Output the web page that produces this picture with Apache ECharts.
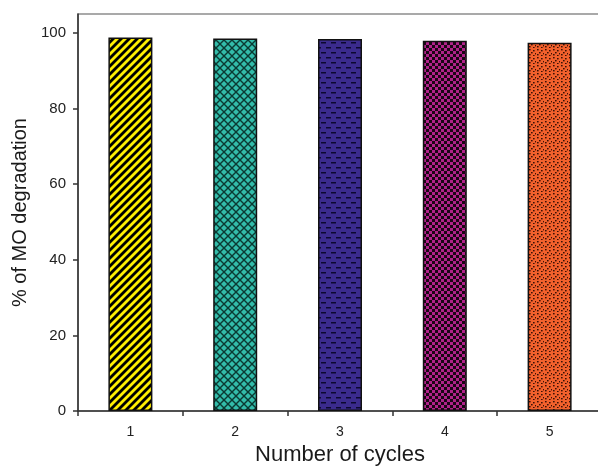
<!DOCTYPE html>
<html>
<head>
<meta charset="utf-8">
<script src="https://cdn.jsdelivr.net/npm/echarts@6/dist/echarts.min.js"></script>
<style>
  html, body { margin: 0; padding: 0; background: #fff; }
  #chart { width: 598px; height: 470px; }
</style>
</head>
<body>
<div id="chart"></div>
<script>
// Degradation of MO over repeated photocatalytic cycles
const cycles = ['1', '2', '3', '4', '5'];
const degradation = [98.8, 98.5, 98.4, 97.9, 97.4];
const yTicks = [0, 20, 40, 60, 80, 100];

// Fill patterns for each bar, built on small tiled canvases
function tile(size, draw) {
  const c = document.createElement('canvas');
  c.width = size; c.height = size;
  draw(c.getContext('2d'), size);
  return { image: c, repeat: 'repeat' };
}

const patterns = [
  // yellow with black diagonal stripes
  tile(8, (g, s) => {
    g.fillStyle = '#ffee00'; g.fillRect(0, 0, s, s);
    g.strokeStyle = '#000'; g.lineWidth = 2.8;
    for (const o of [-s, 0, s]) {
      g.beginPath(); g.moveTo(o - 1, s + 1); g.lineTo(o + s + 1, -1); g.stroke();
    }
  }),
  // teal with dark crosshatch
  tile(8, (g, s) => {
    g.fillStyle = '#33bcaa'; g.fillRect(0, 0, s, s);
    g.strokeStyle = '#0b3a33'; g.lineWidth = 1.4;
    for (const o of [-s, 0, s]) {
      g.beginPath(); g.moveTo(o - 1, s + 1); g.lineTo(o + s + 1, -1); g.stroke();
      g.beginPath(); g.moveTo(o - 1, -1); g.lineTo(o + s + 1, s + 1); g.stroke();
    }
  }),
  // indigo with staggered short dashes
  tile(10, (g, s) => {
    g.fillStyle = '#3b2b8e'; g.fillRect(0, 0, s, s);
    g.fillStyle = '#0c0830';
    g.fillRect(1, 2, 5, 1.5);
    g.fillRect(6, 7, 5, 1.5);
    g.fillRect(-4, 7, 5, 1.5);
  }),
  // magenta and black checks
  tile(6, (g, s) => {
    g.fillStyle = '#b0228a'; g.fillRect(0, 0, s, s);
    g.fillStyle = '#1a0615';
    g.fillRect(3, 0, 3, 3);
    g.fillRect(0, 3, 3, 3);
  }),
  // orange with scattered dark speckles
  tile(8, (g, s) => {
    g.fillStyle = '#f2612c'; g.fillRect(0, 0, s, s);
    g.fillStyle = '#3a1005';
    [[1, 1], [5, 2], [3, 4], [7, 5], [1, 6], [5, 7]].forEach(([x, y]) => g.fillRect(x, y, 1.6, 1.4));
  })
];

const chart = echarts.init(document.getElementById('chart'), null, { renderer: 'canvas' });
chart.setOption({
  backgroundColor: '#fff',
  animation: false,
  textStyle: { fontFamily: 'Liberation Sans, Arial, sans-serif' },
  grid: {
    left: 78, right: -4, top: 14, bottom: 59,
    outerBoundsMode: 'none',
    show: true, borderColor: '#555', borderWidth: 1.2, backgroundColor: 'transparent'
  },
  xAxis: {
    type: 'category',
    data: cycles,
    name: 'Number of cycles',
    nameLocation: 'middle',
    nameGap: 33,
    nameTextStyle: { fontSize: 22, color: '#1a1a1a' },
    axisLine: { lineStyle: { color: '#333', width: 1.5 } },
    axisTick: { show: true, alignWithLabel: false, length: 5, lineStyle: { color: '#333', width: 1.5 } },
    axisLabel: { fontSize: 14, color: '#222', margin: 14 }
  },
  yAxis: {
    type: 'value',
    min: 0, max: 105,
    name: '% of MO degradation',
    nameLocation: 'middle',
    nameGap: 47,
    nameTextStyle: { fontSize: 20, color: '#1a1a1a' },
    axisLine: { show: true, lineStyle: { color: '#333', width: 1.5 } },
    axisTick: { show: true, length: 5, lineStyle: { color: '#333', width: 1.5 }, customValues: yTicks },
    axisLabel: { fontSize: 15, color: '#222', margin: 12, customValues: yTicks },
    splitLine: { show: false }
  },
  series: [{
    type: 'bar',
    barWidth: 44,
    data: degradation.map((v, i) => ({
      value: v,
      itemStyle: { color: patterns[i], borderColor: '#111', borderWidth: 1.5 }
    }))
  }]
});
</script>
</body>
</html>
